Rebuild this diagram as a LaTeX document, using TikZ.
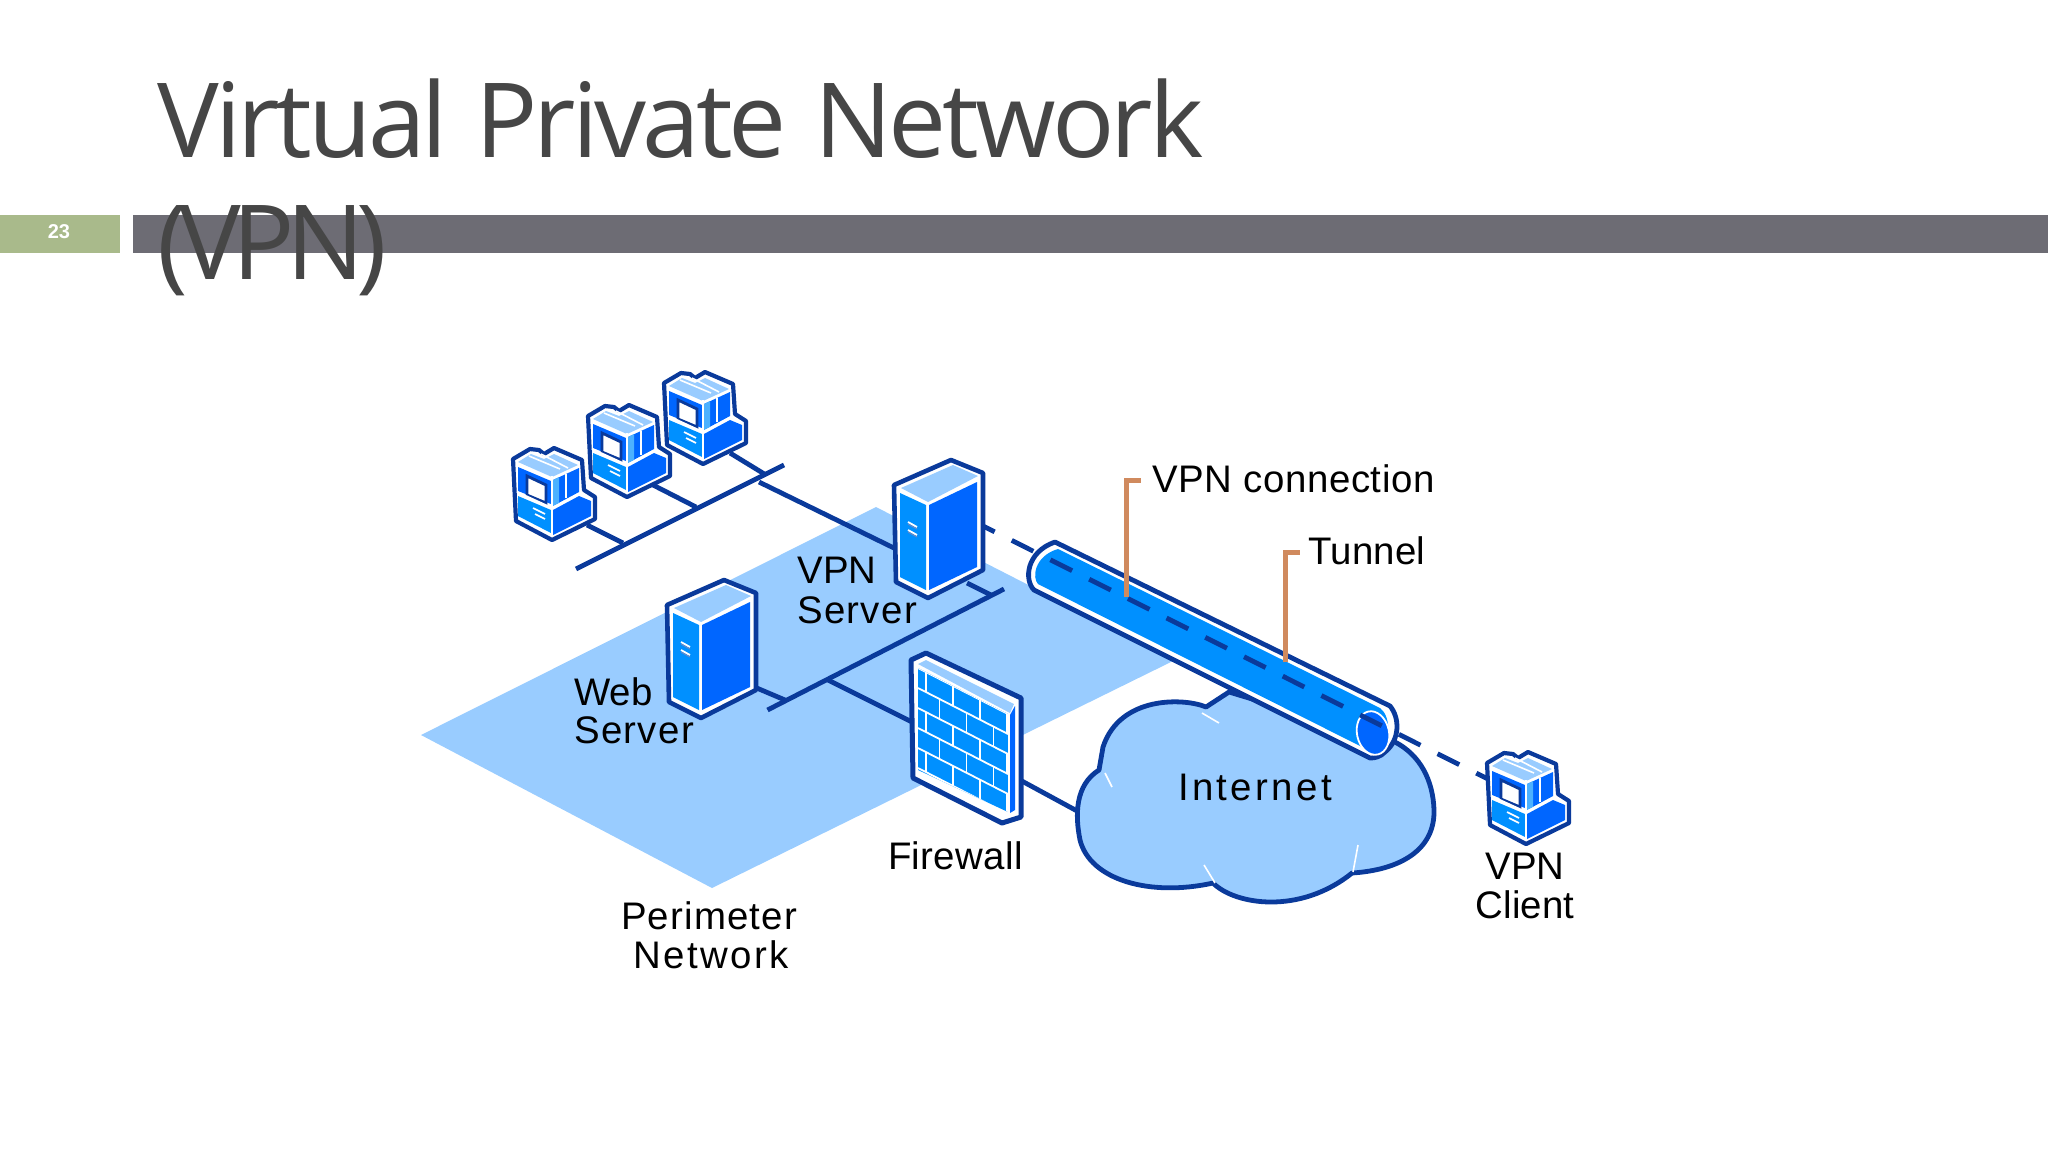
\documentclass[tikz,border=0pt]{standalone}
\usepackage{fontspec}
\setmainfont{Liberation Sans}
\newfontfamily\titlefont[LetterSpace=-3.8,WordSpace=1.2]{Open Sans}
\newfontfamily\titlefontb[LetterSpace=-8.2]{Open Sans}
\definecolor{dk}{HTML}{0A3A9B}
\definecolor{vivid}{HTML}{0066FF}
\definecolor{mid}{HTML}{0090FF}
\definecolor{pale}{HTML}{99CCFF}
\definecolor{lead}{HTML}{D08A5E}
\definecolor{barg}{HTML}{A9BA8B}
\definecolor{bar}{HTML}{6D6C74}
\definecolor{ttl}{HTML}{464646}
\newcommand{\ls}[2]{{\addfontfeature{LetterSpace=#1}#2}}
\tikzset{
  x=0.5pt,y=-0.5pt,
  netline/.style={draw=dk,line width=2.4pt},
  vpnline/.style={draw=dk,line width=2.4pt,dash pattern=on 12.1pt off 9.55pt},
  leader/.style={draw=lead,line width=2.5pt,miter limit=10},
  lbl/.style={inner sep=0pt,font=\fontsize{19.2}{19.2}\selectfont,text=black,anchor=base},
  lbll/.style={lbl,anchor=base west},
  ttlnode/.style={inner sep=0pt,anchor=base west,text=ttl},
  pics/computer/.style={code={
    \draw[draw=dk,fill=white,line width=2.1pt,line join=round]
      (0,11)--(17,1)--(26,2)--(31,6)--(41,0)--(69,12)--(71,42)--(82,49)--(82,71)--(39,92)--(3,73)--cycle;
    \fill[pale] (5,14)--(18,6)--(31,11)--(41,6)--(65,17)--(39,29)--cycle;
    \draw[white,line width=0.8pt] (16,8)--(47,21) (28,6)--(55,20);
    \fill[vivid] (5,19)--(38,33)--(38,56)--(5,43)--cycle;
    \fill[vivid] (40,32)--(66,20)--(66,44)--(40,58)--cycle;
    \fill[mid!70!white] (40,32)--(46,29)--(46,55)--(40,58)--cycle;
    \draw[white,line width=1pt] (53,26)--(53,50);
    \draw[draw=dk,fill=white,line width=1.4pt] (14,28)--(33,37)--(33,55)--(14,47)--cycle;
    \fill[mid] (5,48)--(38,62)--(38,85)--(5,68)--cycle;
    \fill[vivid] (40,62)--(66,48)--(78,53)--(78,68)--(40,87)--cycle;
    \draw[white,line width=0.8pt] (20,60)--(32,66) (22,66)--(32,71);
    \draw[white,line width=1pt] (39,28)--(39,87);
    \draw[white,line width=1pt] (4,44)--(39,60)--(66,46);
  }},
  pics/server/.style={code={
    \draw[draw=dk,fill=white,line width=2.3pt,line join=round]
      (0,25)--(57,0)--(89,13)--(89,110)--(34,138)--(2,122)--cycle;
    \fill[pale] (7,28)--(59,5)--(84,16)--(34,42)--cycle;
    \fill[mid] (6,33)--(32,45)--(32,130)--(6,117)--cycle;
    \fill[vivid] (35,45)--(83,22)--(83,107)--(35,130)--cycle;
    \draw[white,line width=0.9pt] (14,62)--(23,67) (14,70)--(23,75);
    \draw[dk!60!white,line width=0.5pt] (14,64)--(23,69) (14,72)--(23,77);
  }},
  pics/firewall/.style={code={
    \draw[draw=dk,fill=white,line width=2.5pt,line join=round]
      (0,7)--(15,0)--(110,45)--(110,164)--(91,170)--(2,125)--cycle;
    \fill[pale] (7,11)--(15,7)--(103,51)--(99,60)--cycle;
    \fill[vivid] (99,62)--(104,53)--(104,157)--(99,160)--cycle;
    \begin{scope}
      \clip (7,15)--(97,61)--(97,159)--(7,117)--cycle;
      \fill[mid] (7,15)--(97,61)--(97,159)--(7,117)--cycle;
      \foreach \r in {0,...,5}{
        \draw[white,line width=0.9pt] (7,{15+20*\r})--(97,{61+20*\r});
        \foreach \k in {0,1,2,3}{
          \pgfmathsetmacro\xx{15+27*\k+13.5*mod(\r,2)}
          \pgfmathsetmacro\yy{15+(\xx-7)*0.51+20*\r}
          \draw[white,line width=0.9pt] (\xx,\yy)--++(0,20);
        }
      }
    \end{scope}
  }}
}
\begin{document}
\begin{tikzpicture}
\useasboundingbox (0,0) rectangle (2048,1152);
% slide bars
\fill[barg] (0,215) rectangle (119.5,253);
\fill[bar] (132.5,215) rectangle (2048,253);
\node[inner sep=0pt,text=white,font=\bfseries\fontsize{10}{10}\selectfont] (pageno) at (59,232) {23};
% title
\node[ttlnode,font=\titlefont\fontsize{51.8}{60}\selectfont] (title1) at (157,157) {Virtual Private Network};
\begin{scope}
  \clip (0,0) rectangle (2048,295);
  \node[ttlnode,font=\titlefontb\fontsize{51.8}{60}\selectfont] (title2) at (157,279) {(VPN)};
\end{scope}
% perimeter plane
\fill[pale] (421,735)--(876,507)--(1175,660)--(712,888)--cycle;
% coordinates
\coordinate (lana) at (576,569); \coordinate (lanb) at (784,465);
\coordinate (c3s) at (730,453); \coordinate (c3j) at (766,475);
\coordinate (c2s) at (653,485); \coordinate (c2j) at (696,507);
\coordinate (c1s) at (587,525); \coordinate (c1j) at (623,543);
\coordinate (vpnl) at (759,482); \coordinate (vpnin) at (896,549);
\coordinate (dmza) at (767.5,710); \coordinate (dmzb) at (1004,589);
\coordinate (vpns) at (967,583); \coordinate (vpnj) at (991,595);
\coordinate (webs) at (752,686); \coordinate (webj) at (785,700);
\coordinate (fwj) at (828,680); \coordinate (fwin) at (912,722);
\coordinate (fwout) at (1020,780); \coordinate (cloudin) at (1079,812);
\coordinate (vpnstart) at (973,521); \coordinate (vpnend) at (1488,779);
% connectors
\draw[netline] (lana)--(lanb);
\draw[netline] (c3s)--(c3j);
\draw[netline] (c2s)--(c2j);
\draw[netline] (c1s)--(c1j);
\draw[netline] (vpnl)--(vpnin);
\draw[netline] (dmza)--(dmzb);
\draw[netline] (vpns)--(vpnj);
\draw[netline] (webs)--(webj);
\draw[netline] (fwj)--(fwin);
\draw[netline] (fwout)--(cloudin);
% cloud
\draw[draw=dk,fill=pale,line width=2.4pt,line join=round] (1229,692)--(1206,707)
  .. controls (1185,698) and (1120,695) .. (1103,747)
  -- (1099,770)
  .. controls (1075,785) and (1075,815) .. (1080,840)
  .. controls (1090,880) and (1150,897) .. (1213,883)
  .. controls (1235,905) and (1300,915) .. (1352,873)
  .. controls (1400,870) and (1435,850) .. (1434,810)
  .. controls (1433,780) and (1420,755) .. (1395,742)
  --cycle;
\draw[white,line width=0.8pt] (1202,713)--(1219,723) (1105,773)--(1112,787) (1204,865)--(1215,883) (1358,845)--(1353,872);
% tunnel
\draw[draw=dk,fill=white,line width=2.4pt,line join=round] (1055,542)--(1390,706)
  .. controls (1400,718) and (1400,740) .. (1385,752)
  .. controls (1380,757) and (1375,758) .. (1370,758)
  --(1034,590)
  .. controls (1024,580) and (1026,552) .. (1055,542)--cycle;
\fill[mid] (1058,549)--(1380,708)
  .. controls (1390,715) and (1392,740) .. (1380,749)
  .. controls (1376,752) and (1372,752) .. (1368,750)
  --(1038,584)
  .. controls (1032,578) and (1034,556) .. (1058,549)--cycle;
\draw[draw=white,fill=vivid,line width=0.9pt,rotate around={12:(1373,733)}] (1373,733) ellipse [x radius=16,y radius=22];
% vpn connection
\draw[vpnline] (vpnstart)--(vpnend);
% devices
\coordinate (web) at (667,580);
\coordinate (vpn) at (894,460);
\coordinate (fw) at (911,653);
\pic at (513,448) {computer};
\pic at (588,405) {computer};
\pic at (664,372) {computer};
\pic at (1487,752) {computer};
\pic at (web) {server};
\pic at (vpn) {server};
\pic at (fw) {firewall};
% leaders
\coordinate (l1a) at (1126.5,597); \coordinate (l1b) at (1126.5,480); \coordinate (l1c) at (1141,480);
\coordinate (l2a) at (1285,662); \coordinate (l2b) at (1285,552); \coordinate (l2c) at (1300,552);
\draw[leader] (l1a)--(l1b)--(l1c);
\draw[leader] (l2a)--(l2b)--(l2c);
% labels
\node[lbll] (t1) at (1152,492) {\ls{1.5}{VPN connection}};
\node[lbll] (t2) at (1308,564) {\ls{0.5}{Tunnel}};
\node[lbl] (t3) at (1255,800) {\ls{8.8}{Internet}};
\node[lbl] (t4) at (1525,879) {VPN};
\node[lbl] (t5) at (1525,918) {\ls{0.5}{Client}};
\node[lbll] (t6) at (797,583) {VPN};
\node[lbll] (t7) at (797,623) {\ls{3.3}{Server}};
\node[lbll] (t8) at (574,705) {Web};
\node[lbll] (t9) at (574,743) {\ls{3.3}{Server}};
\node[lbl] (t10) at (955.5,869) {\ls{1}{Firewall}};
\node[lbl] (t11) at (709,929) {\ls{3}{Perimeter}};
\node[lbl] (t12) at (711,968) {\ls{6}{Network}};
\end{tikzpicture}
\end{document}
